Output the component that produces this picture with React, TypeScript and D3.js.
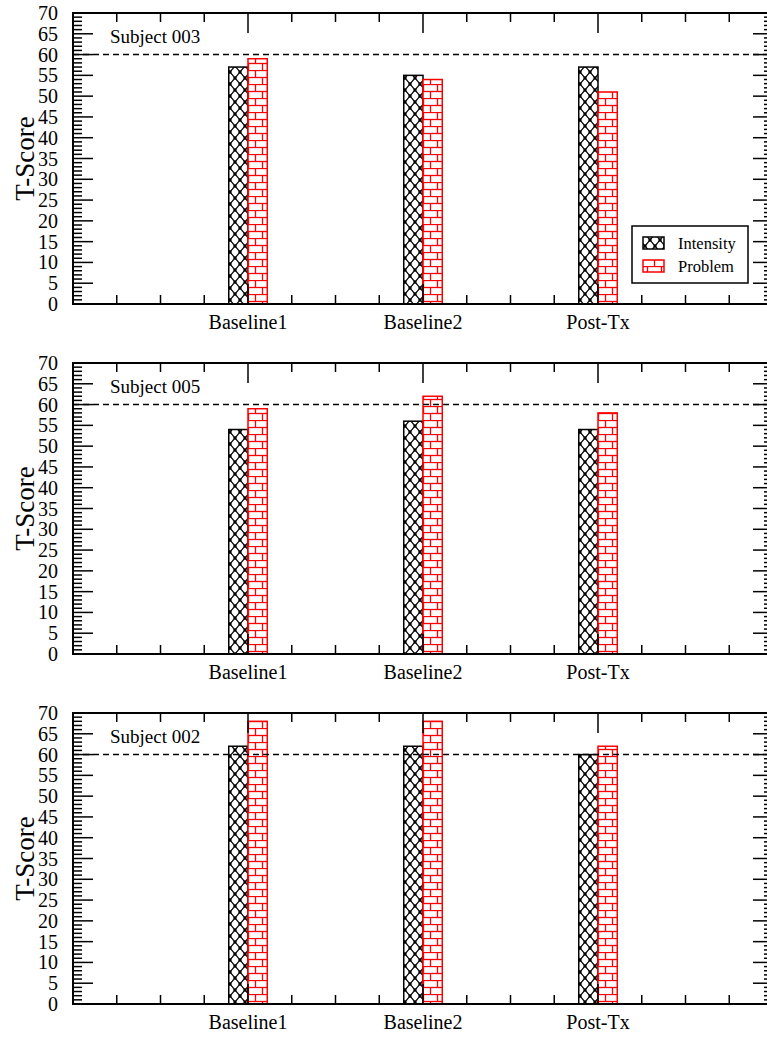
import React from "react";
import * as d3 from "d3";

const categories = ["Baseline1", "Baseline2", "Post-Tx"];
const subjects = ["Subject 003", "Subject 005", "Subject 002"];
const intensity003 = [57, 55, 57];
const problem003 = [59, 54, 51];
const intensity005 = [54, 56, 54];
const problem005 = [59, 62, 58];
const intensity002 = [62, 62, 60];
const problem002 = [68, 68, 62];
const yMajorTicks = [0, 5, 10, 15, 20, 25, 30, 35, 40, 45, 50, 55, 60, 65, 70];
const threshold = 60;
const seriesNames = ["Intensity", "Problem"];

const panels = [
  { subject: subjects[0], intensity: intensity003, problem: problem003, legend: true },
  { subject: subjects[1], intensity: intensity005, problem: problem005, legend: false },
  { subject: subjects[2], intensity: intensity002, problem: problem002, legend: false },
];

const W = 767;
const H = 1038;
const LEFT = 73;
const RIGHT = 773;
const PANEL_H = 291;
const PANEL_TOPS = [13, 363, 713];
const FONT = "'Liberation Serif', 'Times New Roman', serif";
const RED = "#ff0000";
const BAR_W = 0.11;

function Panel({ top, panel }: { top: number; panel: any }) {
  const x = d3.scaleLinear().domain([0, 4]).range([LEFT, RIGHT]);
  const y = d3.scaleLinear().domain([0, 70]).range([top + PANEL_H, top]);
  const bottom = top + PANEL_H;
  const xMinor = d3.range(0, 4.001, 0.25);
  const yMinor = d3.range(0, 71, 1);
  const els: any[] = [];

  // bars
  categories.forEach((c, i) => {
    const cx = i + 1;
    const vi = panel.intensity[i];
    const vp = panel.problem[i];
    els.push(
      <rect key={"bi" + i} x={x(cx - BAR_W)} y={y(vi)} width={x(cx) - x(cx - BAR_W)} height={y(0) - y(vi)}
        fill="url(#xhatch)" stroke="#000" strokeWidth={1.5} />
    );
    els.push(
      <rect key={"bp" + i} x={x(cx)} y={y(vp)} width={x(cx + BAR_W) - x(cx)} height={y(0) - y(vp)}
        fill="url(#brick)" stroke={RED} strokeWidth={1.5} />
    );
  });

  // dashed threshold
  els.push(
    <line key="thr" x1={LEFT} x2={RIGHT} y1={y(threshold)} y2={y(threshold)} stroke="#000" strokeWidth={1.5} strokeDasharray="6,4" />
  );

  // x ticks
  xMinor.forEach((v, i) => {
    const major = Math.abs(v - Math.round(v)) < 1e-6;
    const len = major ? 20 : 9;
    els.push(<line key={"xb" + i} x1={x(v)} x2={x(v)} y1={bottom} y2={bottom - len} stroke="#000" strokeWidth={1.5} />);
    els.push(<line key={"xt" + i} x1={x(v)} x2={x(v)} y1={top} y2={top + len} stroke="#000" strokeWidth={1.5} />);
  });
  // y ticks
  yMinor.forEach((v, i) => {
    const major = v % 5 === 0;
    const len = major ? 20 : 9;
    els.push(<line key={"yl" + i} x1={LEFT} x2={LEFT + len} y1={y(v)} y2={y(v)} stroke="#000" strokeWidth={1.5} />);
    els.push(<line key={"yr" + i} x1={RIGHT} x2={RIGHT - len} y1={y(v)} y2={y(v)} stroke="#000" strokeWidth={1.5} />);
  });
  yMajorTicks.forEach((v, i) => {
    els.push(
      <text key={"yt" + i} x={58} y={y(v)} dy="0.35em" textAnchor="end" fontSize={20} fontFamily={FONT} fill="#000">{v}</text>
    );
  });
  categories.forEach((c, i) => {
    els.push(
      <text key={"xl" + i} x={x(i + 1)} y={bottom + 25} textAnchor="middle" fontSize={20} fontFamily={FONT} fill="#000">{c}</text>
    );
  });

  // frame
  els.push(<rect key="frame" x={LEFT} y={top} width={RIGHT - LEFT} height={PANEL_H} fill="none" stroke="#000" strokeWidth={2} />);

  // subject label
  els.push(
    <text key="subj" x={110} y={top + 30} fontSize={19} fontFamily={FONT} fill="#000">{panel.subject}</text>
  );
  // y title
  const cy = (top + bottom) / 2;
  els.push(
    <text key="ytitle" x={0} y={0} transform={`translate(34,${cy}) rotate(-90)`} textAnchor="middle" fontSize={27} fontFamily={FONT} fill="#000">T-Score</text>
  );

  if (panel.legend) {
    els.push(<rect key="lgbox" x={632} y={226} width={116} height={57} fill="#fff" stroke="#000" strokeWidth={1.5} />);
    els.push(<rect key="lgs1" x={643} y={237} width={21} height={12} fill="url(#xhatch)" stroke="#000" strokeWidth={1.5} />);
    els.push(<rect key="lgs2" x={643} y={260} width={21} height={12} fill="url(#brick)" stroke={RED} strokeWidth={1.5} />);
    els.push(<text key="lgt1" x={678} y={249} fontSize={16.5} fontFamily={FONT} fill="#000">{seriesNames[0]}</text>);
    els.push(<text key="lgt2" x={678} y={272} fontSize={16.5} fontFamily={FONT} fill="#000">{seriesNames[1]}</text>);
  }

  return <g>{els}</g>;
}

export default function App() {
  return (
    <svg width={W} height={H} style={{ position: "absolute", left: 0, top: 0, background: "#fff" }}>
      <defs>
        <pattern id="xhatch" patternUnits="userSpaceOnUse" width={10} height={12}>
          <rect width={10} height={12} fill="#fff" />
          <line x1={0} y1={0} x2={10} y2={12} stroke="#000" strokeWidth={1.2} />
          <line x1={10} y1={0} x2={0} y2={12} stroke="#000" strokeWidth={1.2} />
          <rect x={3.5} y={4.5} width={3} height={3} fill="#000" />
          <rect x={-1.5} y={-1.5} width={3} height={3} fill="#000" />
          <rect x={8.5} y={-1.5} width={3} height={3} fill="#000" />
          <rect x={-1.5} y={10.5} width={3} height={3} fill="#000" />
          <rect x={8.5} y={10.5} width={3} height={3} fill="#000" />
        </pattern>
        <pattern id="brick" patternUnits="userSpaceOnUse" width={14} height={14}>
          <rect width={14} height={14} fill="#fff" />
          <line x1={0} y1={0.5} x2={14} y2={0.5} stroke={RED} strokeWidth={1.3} />
          <line x1={0} y1={7.5} x2={14} y2={7.5} stroke={RED} strokeWidth={1.3} />
          <line x1={3.5} y1={0} x2={3.5} y2={7} stroke={RED} strokeWidth={1.3} />
          <line x1={10.5} y1={7} x2={10.5} y2={14} stroke={RED} strokeWidth={1.3} />
        </pattern>
      </defs>
      <rect width={W} height={H} fill="#fff" />
      {panels.map((p, i) => (
        <Panel key={i} top={PANEL_TOPS[i]} panel={p} />
      ))}
    </svg>
  );
}
